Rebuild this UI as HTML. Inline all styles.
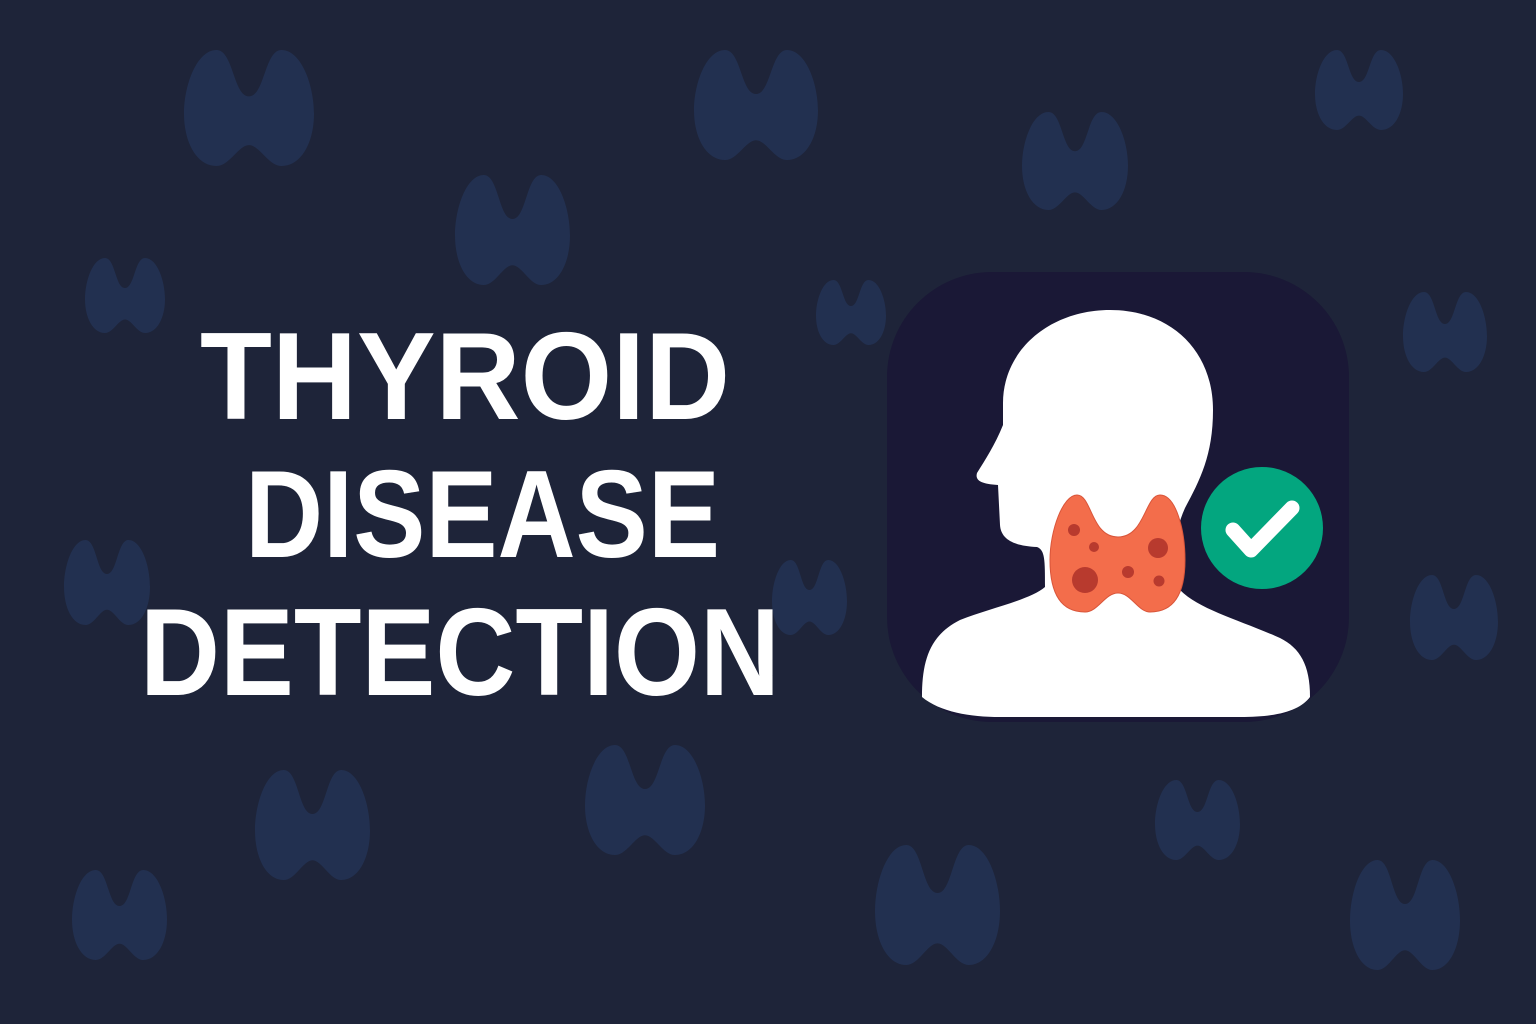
<!DOCTYPE html>
<html><head><meta charset="utf-8"><style>
html,body{margin:0;padding:0;background:#1e2439;}
svg{display:block}
</style></head><body>
<svg width="1536" height="1024" viewBox="0 0 1536 1024" xmlns="http://www.w3.org/2000/svg">
<defs>
<path id="th" d="M25 0C10 0 0 30 0 55C0 80 10 100 25 100C35 100 42 82 50 82C58 82 65 100 75 100C90 100 100 80 100 55C100 30 90 0 75 0C62 0 62 40 50 40C38 40 38 0 25 0Z"/>
</defs>
<rect width="1536" height="1024" fill="#1e2439"/>
<g fill="#223050">
<use href="#th" transform="translate(184,50) scale(1.3,1.16)"/>
<use href="#th" transform="translate(694,50) scale(1.24,1.1)"/>
<use href="#th" transform="translate(1315,50) scale(0.88,0.8)"/>
<use href="#th" transform="translate(455,175) scale(1.15,1.1)"/>
<use href="#th" transform="translate(1022,112) scale(1.06,0.98)"/>
<use href="#th" transform="translate(85,258) scale(0.8,0.75)"/>
<use href="#th" transform="translate(816,280) scale(0.7,0.65)"/>
<use href="#th" transform="translate(1403,292) scale(0.84,0.8)"/>
<use href="#th" transform="translate(64,540) scale(0.86,0.85)"/>
<use href="#th" transform="translate(772,560) scale(0.75,0.75)"/>
<use href="#th" transform="translate(1410,575) scale(0.88,0.85)"/>
<use href="#th" transform="translate(255,770) scale(1.15,1.1)"/>
<use href="#th" transform="translate(585,745) scale(1.2,1.1)"/>
<use href="#th" transform="translate(1155,780) scale(0.85,0.8)"/>
<use href="#th" transform="translate(72,870) scale(0.95,0.9)"/>
<use href="#th" transform="translate(875,845) scale(1.25,1.2)"/>
<use href="#th" transform="translate(1350,860) scale(1.1,1.1)"/>
</g>
<g fill="#ffffff" font-family="Liberation Sans, sans-serif" font-weight="bold" font-size="124">
<text x="200" y="419" textLength="530" lengthAdjust="spacingAndGlyphs">THYROID</text>
<text x="245" y="557" textLength="475" lengthAdjust="spacingAndGlyphs">DISEASE</text>
<text x="140" y="695" textLength="640" lengthAdjust="spacingAndGlyphs">DETECTION</text>
</g>
<g>
<rect x="887" y="272" width="462" height="450" rx="105" fill="#1a1836"/>
<path fill="#ffffff" d="M1110 310C1050 310 1003 350 1003 403L1003 425C995 445 985 460 977 473C975 480 980 484 998 485L1000 525C1001 540 1015 546 1037 547C1045 550 1045 560 1045 587C1030 600 990 608 960 620C930 635 922 660 922 697C940 712 970 717 1000 717L1240 717C1280 717 1300 710 1310 697C1310 665 1300 648 1280 638C1240 620 1200 610 1180 590C1170 560 1175 530 1185 508C1200 480 1213 455 1213 410C1213 350 1170 310 1110 310Z"/>
<path fill="#f36d4b" stroke="#d9553a" stroke-width="1" d="M1077 495C1063 495 1050 530 1050 560C1050 592 1060 612 1085 612C1098 612 1105 593 1118 593C1131 593 1138 612 1150 612C1175 612 1185 592 1185 560C1185 530 1176 495 1160 495C1145 495 1145 537 1118 537C1091 537 1092 495 1077 495Z"/>
<g fill="#b83a2e">
<circle cx="1074" cy="530" r="6"/>
<circle cx="1094" cy="547" r="5"/>
<circle cx="1158" cy="548" r="10"/>
<circle cx="1085" cy="580" r="13"/>
<circle cx="1128" cy="572" r="6"/>
<circle cx="1159" cy="581" r="5.5"/>
</g>
<circle cx="1262" cy="528" r="61" fill="#03a67f"/>
<path d="M1233 530L1251 550L1292 508" fill="none" stroke="#ffffff" stroke-width="15" stroke-linecap="round" stroke-linejoin="round"/>
</g>
</svg>
</body></html>
